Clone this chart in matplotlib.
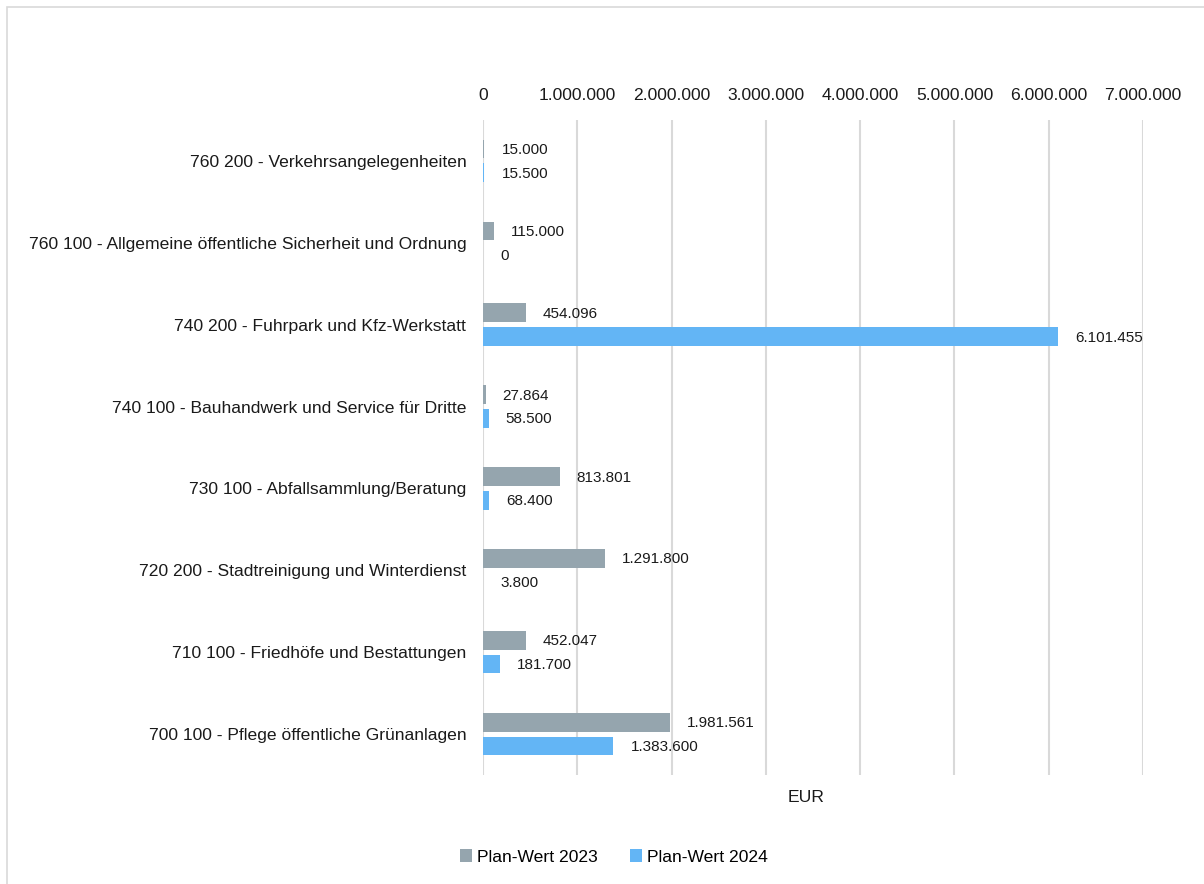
import matplotlib
matplotlib.use("Agg")
import matplotlib.pyplot as plt
from matplotlib.patches import Rectangle
from matplotlib.ticker import FuncFormatter
from matplotlib.transforms import offset_copy
import numpy as np

plt.rcParams['font.family'] = ['Liberation Sans', 'DejaVu Sans']

categories = [
    "760 200 - Verkehrsangelegenheiten",
    "760 100 - Allgemeine öffentliche Sicherheit und Ordnung",
    "740 200 - Fuhrpark und Kfz-Werkstatt",
    "740 100 - Bauhandwerk und Service für Dritte",
    "730 100 - Abfallsammlung/Beratung",
    "720 200 - Stadtreinigung und Winterdienst",
    "710 100 - Friedhöfe und Bestattungen",
    "700 100 - Pflege öffentliche Grünanlagen",
]
plan_2023 = [15000, 115000, 454096, 27864, 813801, 1291800, 452047, 1981561]
plan_2024 = [15500, 0, 6101455, 58500, 68400, 3800, 181700, 1383600]
series_labels = ["Plan-Wert 2023", "Plan-Wert 2024"]
x_ticks = [0, 1000000, 2000000, 3000000, 4000000, 5000000, 6000000, 7000000]

col_2023 = "#95A5AE"
col_2024 = "#63B5F5"


def de_fmt(v, pos=None):
    return f"{int(round(v)):,}".replace(",", ".")


fig = plt.figure(figsize=(12.04, 8.84), dpi=100)
fig.add_artist(Rectangle((7 / 1204, -0.05), 1.1, 1.05 - 7 / 884,
                         transform=fig.transFigure, fill=False,
                         edgecolor="#d9d9d9", linewidth=1.2))

ax = fig.add_axes([483 / 1204, 1 - 775 / 884, (1143 - 483) / 1204, (775 - 120) / 884])

y = np.arange(len(categories))
h = 0.23
off = 0.145
b1 = ax.barh(y - off, plan_2023, height=h, color=col_2023, label=series_labels[0], zorder=3)
b2 = ax.barh(y + off, plan_2024, height=h, color=col_2024, label=series_labels[1], zorder=3)

ax.set_ylim(len(categories) - 0.5, -0.5)
ax.set_xlim(0, 7000000)
ax.set_xticks(x_ticks)
ax.xaxis.set_major_formatter(FuncFormatter(de_fmt))
ax.xaxis.tick_top()
ax.tick_params(axis="x", length=0, pad=12, labelsize=12.6, colors="#1a1a1a")
ax.set_yticks(y)
ax.set_yticklabels(categories)
ax.tick_params(axis="y", length=0, pad=12, labelsize=12.6, colors="#1a1a1a")
ax.grid(axis="x", color="#d9d9d9", linewidth=1.5, zorder=0)
for s in ax.spines.values():
    s.set_visible(False)

trans = offset_copy(ax.transData, fig=fig, x=17, y=-1, units="dots")
for bars, vals in ((b1, plan_2023), (b2, plan_2024)):
    for bar, v in zip(bars, vals):
        yc = bar.get_y() + bar.get_height() / 2
        ax.text(v, yc, de_fmt(v), transform=trans, ha="left", va="center",
                fontsize=11, color="#1a1a1a")

fig.text((483 + 1143) / 2 / 1204 - 0.006, 1 - 797 / 884, "EUR", ha="center", va="center",
         fontsize=12.6, color="#1a1a1a")

fig.legend(loc="center", bbox_to_anchor=(0.51, 1 - 857 / 884), ncol=2, frameon=False,
           fontsize=12.6, handlelength=0.7, handleheight=0.7, handletextpad=0.3,
           columnspacing=1.8)

fig.savefig("out.png", dpi=100)
